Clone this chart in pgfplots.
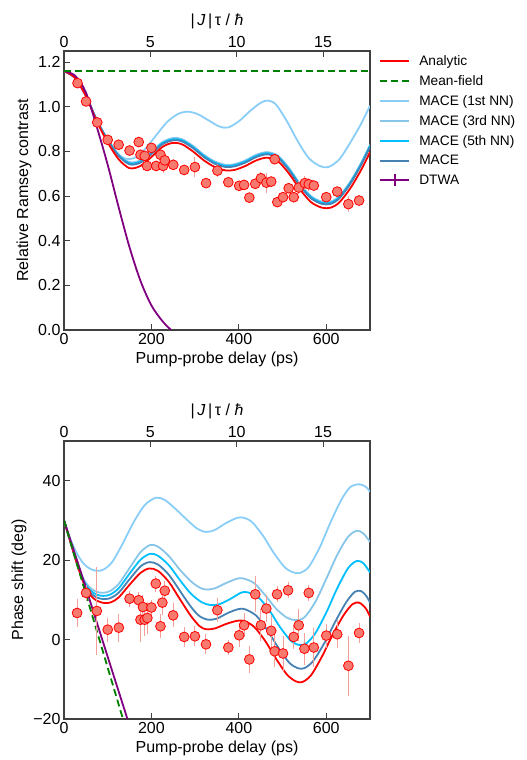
\documentclass[border=0pt]{standalone}
\usepackage{fontspec}
\setmainfont{Liberation Sans}
\usepackage{pgfplots}
\pgfplotsset{compat=1.18}

\definecolor{analytic}{HTML}{FF0000}
\definecolor{meanfield}{HTML}{008000}
\definecolor{nnone}{HTML}{8ACEF8}
\definecolor{nnthree}{HTML}{87C6E8}
\definecolor{nnfive}{HTML}{00BFFF}
\definecolor{mace}{HTML}{4682B4}
\definecolor{dtwa}{HTML}{800080}
\definecolor{ptfill}{HTML}{F8796E}
\definecolor{errbar}{HTML}{F4A09A}

\pgfplotsset{
  panel/.style={
    scale only axis, width=306pt,
    xmin=0, xmax=700,
    tick align=inside, major tick length=6pt,
    xtick pos=bottom, ytick pos=left,
    axis line style={draw=black!75, line width=1.1pt},
    major tick style={draw=black!75, line width=1pt},
    tick label style={font=\fontsize{16}{19}\selectfont},
    label style={font=\fontsize{16}{19}\selectfont},
    /pgf/number format/assume math mode=true,
    xtick={0,200,400,600},
    xlabel={Pump-probe delay (ps)},
    legend image code/.code={%
      \draw[mark repeat=2,mark phase=2,##1] plot coordinates {(0pt,0pt) (14.5pt,0pt) (29pt,0pt)};},
  },
  topscale/.style={
    scale only axis, width=306pt,
    xmin=0, xmax=17.72, ymin=0, ymax=1,
    axis x line*=top, axis y line=none,
    tick align=inside, major tick length=6pt,
    axis line style={draw=black!75, line width=1.1pt},
    major tick style={draw=black!75, line width=1pt},
    tick label style={font=\fontsize{16}{19}\selectfont},
    label style={font=\fontsize{16}{19}\selectfont},
    /pgf/number format/assume math mode=true,
    xtick={0,5,10,15},
    xlabel={|\,\textit{J}\,|\,τ / \textit{ħ}},
  },
  curve/.style={line width=1.8pt, forget plot, smooth},
  errs/.style={forget plot, only marks, mark=none,
    error bars/.cd, y dir=both, y explicit, error mark=none,
    error bar style={errbar, line width=1pt}},
  pts/.style={forget plot, only marks, mark=*, mark size=4.9pt,
    mark options={fill=ptfill, draw=red, line width=0.8pt}},
}

\begin{document}
\begin{tikzpicture}
\path[use as bounding box] (0pt,0pt) rectangle (527pt,760pt);

% ---------- upper panel: contrast ----------
\begin{axis}[panel, at={(64pt,430pt)}, anchor=south west, height=279pt,
  ymin=0, ymax=1.25,
  ytick={0,0.2,0.4,0.6,0.8,1.0,1.2},
  yticklabels={0.0,0.2,0.4,0.6,0.8,1.0,1.2},
  ylabel={Relative Ramsey contrast},
  legend style={at={(1.02,1.0)}, anchor=north west, draw=none, fill=none,
    font=\fontsize{13.7}{16}\selectfont, row sep=4.6pt, column sep=7pt,
    legend cell align=left},
]
\addlegendimage{analytic, line width=2pt}
\addlegendentry{Analytic}
\addlegendimage{meanfield, line width=2pt, dash pattern=on 7pt off 4pt}
\addlegendentry{Mean-field}
\addlegendimage{nnone, line width=2pt}
\addlegendentry{MACE (1st NN)}
\addlegendimage{nnthree, line width=2pt}
\addlegendentry{MACE (3rd NN)}
\addlegendimage{nnfive, line width=2pt}
\addlegendentry{MACE (5th NN)}
\addlegendimage{mace, line width=2pt}
\addlegendentry{MACE}
\addlegendimage{dtwa, line width=2pt, mark=|, mark size=6pt, mark options={solid, line width=1.5pt}}
\addlegendentry{DTWA}

\addplot[curve, nnone] coordinates {
  (0,1.16)(25,1.13)(50,1.05)(75,0.94)(100,0.85)(120,0.795)(140,0.768)(160,0.77)
  (185,0.81)(210,0.87)(235,0.93)(260,0.967)(282,0.978)(305,0.968)(330,0.94)
  (355,0.912)(375,0.907)(400,0.935)(425,0.98)(450,1.018)(467,1.028)(485,1.01)
  (510,0.935)(535,0.845)(560,0.77)(585,0.735)(605,0.73)(630,0.765)(655,0.84)
  (680,0.925)(700,1.005)};
\addplot[curve, nnthree] coordinates {
  (0,1.16)(25,1.13)(50,1.05)(75,0.94)(100,0.855)(125,0.787)(150,0.752)(175,0.76)
  (200,0.798)(225,0.842)(250,0.86)(270,0.855)(295,0.825)(320,0.785)(345,0.755)
  (370,0.74)(390,0.743)(415,0.76)(440,0.785)(465,0.797)(490,0.78)(515,0.725)
  (540,0.655)(565,0.6)(590,0.575)(610,0.575)(630,0.6)(655,0.665)(680,0.75)(700,0.83)};
\addplot[curve, nnfive] coordinates {
  (0,1.16)(25,1.13)(50,1.05)(75,0.94)(100,0.852)(125,0.783)(150,0.747)(175,0.755)
  (200,0.793)(225,0.837)(250,0.855)(270,0.85)(295,0.82)(320,0.78)(345,0.75)
  (370,0.735)(390,0.738)(415,0.755)(440,0.78)(465,0.792)(490,0.775)(515,0.72)
  (540,0.65)(565,0.595)(590,0.57)(610,0.57)(630,0.595)(655,0.66)(680,0.745)(700,0.825)};
\addplot[curve, mace] coordinates {
  (0,1.16)(25,1.13)(50,1.05)(75,0.94)(100,0.85)(125,0.78)(150,0.742)(175,0.75)
  (200,0.788)(225,0.832)(250,0.85)(270,0.845)(295,0.815)(320,0.775)(345,0.745)
  (370,0.73)(390,0.733)(415,0.75)(440,0.775)(465,0.787)(490,0.77)(515,0.715)
  (540,0.645)(565,0.59)(590,0.565)(610,0.565)(630,0.59)(655,0.655)(680,0.74)(700,0.82)};
\addplot[curve, analytic] coordinates {
  (0,1.16)(25,1.13)(50,1.048)(75,0.935)(100,0.84)(125,0.765)(150,0.725)(175,0.735)
  (200,0.775)(225,0.82)(248,0.838)(270,0.832)(295,0.8)(320,0.76)(345,0.73)
  (370,0.715)(390,0.717)(415,0.735)(440,0.76)(465,0.772)(490,0.755)(515,0.7)
  (540,0.63)(565,0.573)(590,0.548)(610,0.548)(630,0.572)(655,0.635)(680,0.718)(700,0.797)};
\addplot[curve, dtwa] coordinates {
  (0,1.16)(25,1.14)(50,1.065)(75,0.91)(100,0.74)(125,0.55)(150,0.37)(175,0.22)
  (200,0.11)(225,0.04)(245,0.0)};
\addplot[forget plot, meanfield, line width=1.8pt, dash pattern=on 7pt off 4pt]
  coordinates {(0,1.16)(700,1.16)};

\addplot[errs] table[x=x, y=y, y error=e] {
x y e
31 1.106 0.015
50.5 1.024 0.015
76 0.93 0.015
100 0.852 0.015
125 0.83 0.015
150 0.804 0.015
171 0.842 0.02
175 0.785 0.02
184.6 0.78 0.02
190 0.735 0.02
200 0.816 0.02
211 0.735 0.02
220.7 0.785 0.02
226.7 0.735 0.03
230.6 0.76 0.02
250 0.74 0.025
275 0.717 0.02
299.5 0.73 0.045
325 0.658 0.02
351 0.714 0.03
376 0.662 0.02
400.7 0.646 0.02
412 0.65 0.02
424 0.593 0.02
437.5 0.655 0.02
450.5 0.68 0.03
463 0.66 0.045
474 0.665 0.02
482 0.765 0.02
488 0.573 0.02
501 0.595 0.02
514 0.635 0.02
525.5 0.595 0.02
537 0.638 0.03
551 0.658 0.03
560 0.653 0.03
571.5 0.647 0.02
600 0.595 0.02
625 0.62 0.02
650.5 0.564 0.035
675 0.58 0.02
};
\addplot[pts] table[x=x, y=y] {
x y
31 1.106
50.5 1.024
76 0.93
100 0.852
125 0.83
150 0.804
171 0.842
175 0.785
184.6 0.78
190 0.735
200 0.816
211 0.735
220.7 0.785
226.7 0.735
230.6 0.76
250 0.74
275 0.717
299.5 0.73
325 0.658
351 0.714
376 0.662
400.7 0.646
412 0.65
424 0.593
437.5 0.655
450.5 0.68
463 0.66
474 0.665
482 0.765
488 0.573
501 0.595
514 0.635
525.5 0.595
537 0.638
551 0.658
560 0.653
571.5 0.647
600 0.595
625 0.62
650.5 0.564
675 0.58
};
\end{axis}
\begin{axis}[topscale, at={(64pt,430pt)}, anchor=south west, height=279pt]
\end{axis}

% ---------- lower panel: phase shift ----------
\begin{axis}[panel, at={(64pt,41pt)}, anchor=south west, height=278pt,
  ymin=-20, ymax=50,
  ytick={-20,0,20,40},
  yticklabels={−20,0,20,40},
  ylabel={Phase shift (deg)},
]
\addplot[curve, nnone] coordinates {
  (0,30)(15,25.2)(30,21.6)(45,19.1)(60,17.8)(75,17.3)(90,17.6)(110,19.5)(135,24.3)
  (160,29.7)(185,33.9)(210,35.7)(230,35.2)(255,32.9)(280,30.3)(305,27.9)(325,27.1)
  (345,27.6)(370,29.3)(395,30.6)(410,30.7)(430,29.6)(455,26.2)(480,21.8)(505,18.2)
  (525,16.9)(540,16.8)(560,18.3)(585,23.2)(610,29.6)(635,35.3)(655,38.4)(675,39.1)
  (690,38.5)(700,37.2)};
\addplot[curve, nnthree] coordinates {
  (0,30)(15,24.6)(30,19.3)(45,15.2)(60,13.0)(75,12.0)(90,11.8)(105,12.2)(125,14.0)
  (150,18.0)(175,22.0)(197,23.8)(215,23.4)(240,21.0)(265,17.6)(290,14.7)(310,13.1)
  (325,12.6)(345,12.9)(370,14.2)(395,15.3)(410,15.4)(435,14.2)(460,11.2)(485,7.8)
  (510,5.5)(530,4.9)(550,5.6)(575,9.5)(600,15.3)(625,21.3)(650,25.9)(670,27.4)
  (685,26.7)(700,24.6)};
\addplot[curve, nnfive] coordinates {
  (0,30)(15,24.5)(30,19.1)(45,14.8)(60,12.4)(75,11.3)(90,11.0)(105,11.3)(125,12.9)
  (150,16.6)(175,20.1)(197,21.6)(215,21.1)(240,18.7)(265,15.0)(290,11.6)(315,9.4)
  (335,8.7)(355,8.9)(380,10.2)(405,11.8)(420,11.9)(445,10.6)(470,7.3)(495,3.0)
  (520,-0.4)(540,-1.4)(555,-0.9)(575,1.6)(600,6.8)(625,12.9)(650,18.0)(670,19.8)
  (685,19.2)(700,16.9)};
\addplot[curve, mace] coordinates {
  (0,30)(15,24.5)(30,19)(45,14.5)(60,11.8)(75,10.6)(90,10.2)(105,10.4)(125,11.8)
  (150,15.2)(175,18.4)(195,19.5)(215,18.9)(240,16.3)(265,12.3)(290,8.3)(310,5.9)
  (330,5.0)(350,5.3)(375,6.7)(400,7.7)(415,7.6)(440,6.0)(465,2.4)(490,-2.0)
  (515,-5.8)(535,-7.2)(550,-7.2)(570,-5.4)(595,-1.0)(620,4.4)(645,9.3)(665,12.0)
  (680,12.2)(692,10.9)(700,9.3)};
\addplot[curve, analytic] coordinates {
  (0,30)(15,24.5)(30,19)(45,14.2)(60,11.2)(75,9.8)(92,9.2)(108,9.4)(125,10.6)
  (150,13.8)(175,16.8)(195,17.9)(215,17.3)(240,14.5)(265,10.2)(290,6.0)(310,3.4)
  (325,2.6)(345,2.8)(370,3.9)(395,4.7)(412,4.7)(435,3.2)(460,-0.3)(485,-4.8)
  (510,-8.8)(530,-10.5)(545,-10.7)(565,-9.0)(590,-4.3)(615,1.3)(640,6.2)(660,8.9)
  (675,9.3)(690,7.9)(700,5.8)};
\addplot[forget plot, dtwa, line width=1.8pt] coordinates {
  (0,30)(40,16.5)(80,2.6)(120,-11.3)(150,-21.7)};
\addplot[forget plot, meanfield, line width=1.8pt, dash pattern=on 7pt off 4pt]
  coordinates {(0,30)(140,-21.9)};

\addplot[errs] table[x=x, y=y, y error=e] {
x y e
30 6.7 3.5
50.5 11.75 2
75 7.2 11
100 2.5 3
125.5 3.0 3.5
150 10.3 2
171 9.9 2
175 5.0 5.5
180.7 8.2 3
184.6 5.0 4
190.7 5.45 4
200 8.07 2
210 14.1 2
220.7 3.35 3
225 9.3 3
230.6 12.3 2.5
249.7 6.1 3
275 0.66 2.5
299.5 0.83 2.5
324.8 -1.2 2.5
350.8 7.4 3
376 -2.0 2
400.7 1.08 3
412 3.6 3
424 -5.0 3.5
437.5 11.4 4.5
450.5 3.6 4
462.8 7.8 3.5
474 2.2 4
482 -2.95 4
487.4 11.4 2
501 -3.5 4.5
512.6 12.4 2
525.5 0.66 3
537 3.6 4
550 -2.3 4
560 11.75 2
571.5 -2.0 5
600 1.0 3
625 1.34 3.5
650.6 -6.6 7.5
675 1.66 2.5
};
\addplot[pts] table[x=x, y=y] {
x y
30 6.7
50.5 11.75
75 7.2
100 2.5
125.5 3.0
150 10.3
171 9.9
175 5.0
180.7 8.2
184.6 5.0
190.7 5.45
200 8.07
210 14.1
220.7 3.35
225 9.3
230.6 12.3
249.7 6.1
275 0.66
299.5 0.83
324.8 -1.2
350.8 7.4
376 -2.0
400.7 1.08
412 3.6
424 -5.0
437.5 11.4
450.5 3.6
462.8 7.8
474 2.2
482 -2.95
487.4 11.4
501 -3.5
512.6 12.4
525.5 0.66
537 3.6
550 -2.3
560 11.75
571.5 -2.0
600 1.0
625 1.34
650.6 -6.6
675 1.66
};
\end{axis}
\begin{axis}[topscale, at={(64pt,41pt)}, anchor=south west, height=278pt]
\end{axis}
\end{tikzpicture}
\end{document}
